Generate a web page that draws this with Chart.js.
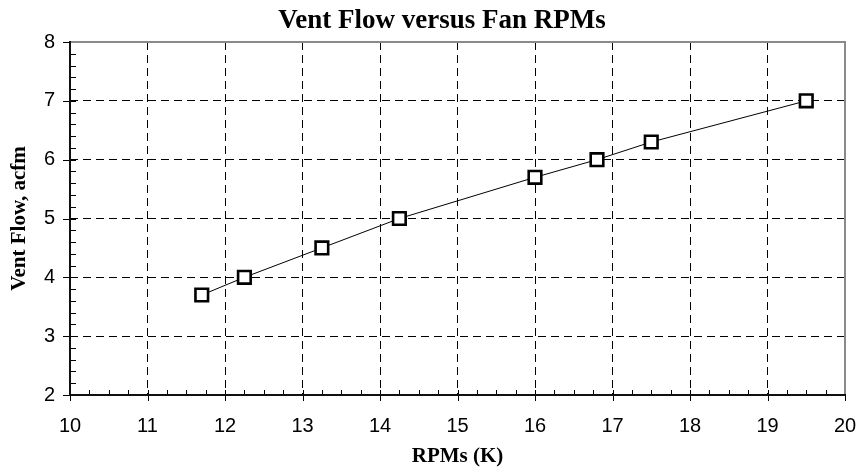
<!DOCTYPE html>
<html>
<head>
<meta charset="utf-8">
<script src="https://cdn.jsdelivr.net/npm/chart.js@4/dist/chart.umd.min.js"></script>
<style>
  html, body { margin: 0; padding: 0; background: #fff; }
  #wrap { width: 860px; height: 472px; }
</style>
</head>
<body>
<div id="wrap"><canvas id="c" width="860" height="472"></canvas></div>
<script>
// ---- data ----
const rpms = [11.7, 12.25, 13.25, 14.25, 16.0, 16.8, 17.5, 19.5];
const ventFlow = [3.7, 4.0, 4.5, 5.0, 5.7, 6.0, 6.3, 7.0];
const xRange = [10, 20];
const yRange = [2, 8];
const titleText = 'Vent Flow versus Fan RPMs';
const xTitle = 'RPMs (K)';
const yTitle = 'Vent Flow, acfm';

const points = rpms.map((x, i) => ({ x: x, y: ventFlow[i] }));

const decor = {
  id: 'decor',
  beforeDatasetsDraw(chart) {
    const { ctx, chartArea: a, scales: { x, y } } = chart;
    ctx.save();
    ctx.strokeStyle = '#000';
    ctx.lineWidth = 1;
    ctx.setLineDash([]);
    ctx.beginPath();
    // x minor ticks (0.25) inside
    const nx = Math.round((xRange[1] - xRange[0]) / 0.25);
    for (let i = 0; i <= nx; i++) {
      const px = Math.round(x.getPixelForValue(xRange[0] + i * 0.25)) + 0.5;
      if (i % 4 === 0) {
        ctx.moveTo(px, a.bottom - 5); ctx.lineTo(px, a.bottom + 6);
      } else {
        ctx.moveTo(px, a.bottom); ctx.lineTo(px, a.bottom - 5);
      }
    }
    // y minor ticks (0.2) inside
    const ny = Math.round((yRange[1] - yRange[0]) / 0.2);
    for (let i = 0; i <= ny; i++) {
      const py = Math.round(y.getPixelForValue(yRange[0] + i * 0.2)) + 0.5;
      if (i % 5 === 0) {
        ctx.moveTo(a.left - 7, py); ctx.lineTo(a.left + 6, py);
      } else {
        ctx.moveTo(a.left, py); ctx.lineTo(a.left + 6, py);
      }
    }
    ctx.stroke();
    // frame: top & right grey, left & bottom black
    ctx.lineWidth = 2;
    ctx.strokeStyle = '#8a8a8a';
    ctx.beginPath();
    ctx.moveTo(a.left, a.top); ctx.lineTo(a.right, a.top); ctx.lineTo(a.right, a.bottom);
    ctx.stroke();
    ctx.strokeStyle = '#111';
    ctx.beginPath();
    ctx.moveTo(a.left, a.top - 1); ctx.lineTo(a.left, a.bottom); ctx.lineTo(a.right + 1, a.bottom);
    ctx.stroke();
    ctx.restore();
  },
  afterDraw(chart) {
    const { ctx } = chart;
    ctx.save();
    ctx.fillStyle = '#000';
    ctx.font = 'bold 27px "Liberation Serif", "Times New Roman", serif';
    ctx.textAlign = 'center';
    ctx.textBaseline = 'alphabetic';
    ctx.fillText(titleText, 442, 28);
    ctx.restore();
  }
};

new Chart(document.getElementById('c'), {
  type: 'scatter',
  data: {
    datasets: [{
      data: points,
      showLine: true,
      borderColor: '#000',
      borderWidth: 1,
      tension: 0,
      pointStyle: 'rect',
      pointRadius: 8.9,
      pointBackgroundColor: '#fff',
      pointBorderColor: '#000',
      pointBorderWidth: 2.6
    }]
  },
  options: {
    responsive: false,
    animation: false,
    events: [],
    layout: { padding: { top: 42, right: 15, bottom: 0, left: 0 } },
    plugins: {
      legend: { display: false },
      title: { display: false },
      tooltip: { enabled: false }
    },
    scales: {
      x: {
        type: 'linear',
        min: xRange[0], max: xRange[1],
        afterFit(s) { s.height = 77; s.paddingLeft = 0; s.paddingRight = 0; },
        ticks: {
          stepSize: 1,
          padding: 19,
          color: '#000',
          font: { family: '"Liberation Sans", Arial, sans-serif', size: 20 }
        },
        grid: { color: '#000', lineWidth: 1, drawTicks: false },
        border: { display: false, dash: [8, 5] },
        title: {
          display: true,
          text: xTitle,
          color: '#000',
          font: { family: '"Liberation Serif", "Times New Roman", serif', size: 21, weight: 'bold' },
          padding: { top: 0, bottom: 3 }
        }
      },
      y: {
        type: 'linear',
        min: yRange[0], max: yRange[1],
        afterFit(s) { s.width = 70; s.paddingTop = 0; s.paddingBottom = 0; },
        ticks: {
          stepSize: 1,
          padding: 15,
          color: '#000',
          font: { family: '"Liberation Sans", Arial, sans-serif', size: 20 }
        },
        grid: { color: '#000', lineWidth: 1, drawTicks: false },
        border: { display: false, dash: [8, 5] },
        title: {
          display: true,
          text: yTitle,
          color: '#000',
          font: { family: '"Liberation Serif", "Times New Roman", serif', size: 21, weight: 'bold' },
          padding: { top: 7, bottom: 0 }
        }
      }
    }
  },
  plugins: [decor]
});
</script>
</body>
</html>
